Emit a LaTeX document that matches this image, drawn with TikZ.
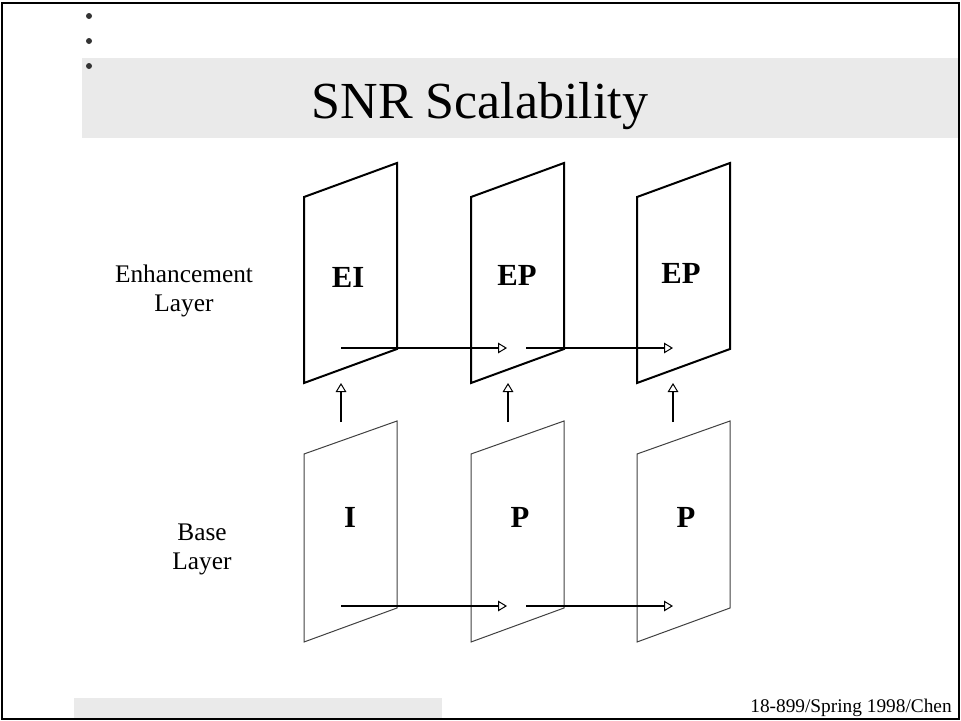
\documentclass[tikz,border=0pt]{standalone}
\usepackage{fontspec}
\setmainfont{Liberation Serif}
\usetikzlibrary{arrows.meta}
\definecolor{bandgray}{HTML}{EAEAEA}
\definecolor{dotgray}{HTML}{333333}
\definecolor{basegray}{HTML}{404040}
\begin{document}
\begin{tikzpicture}[x=0.75pt,y=-0.75pt]
\tikzstyle{every node}=[inner sep=0pt,anchor=base]
\tikzstyle{enhframe}=[line width=1.5pt,line join=miter]
\tikzstyle{baseframe}=[line width=0.75pt,basegray]
\tikzstyle{flow}=[line width=1.5pt,-{Triangle[open,length=6.75pt,width=8pt,line width=0.75pt]}]
\tikzstyle{frametext}=[font=\bfseries\fontsize{23}{27}\selectfont]
\tikzstyle{sidetext}=[font=\fontsize{19}{23}\selectfont]

% page size and slide frame
\useasboundingbox (0,0) rectangle (961,721);
\fill[bandgray] (82,58) rectangle (959,138);
\fill[bandgray] (74,698) rectangle (442,719);
\draw[line width=1.5pt] (2,3) rectangle (959,719);

% bullets
\foreach \y in {16,41,66}
	\fill[dotgray] (89,\y) circle (2.25pt);

% title and footer
\node[font=\fontsize{39}{46}\selectfont] (title) at (480,118) {SNR Scalability};
\node[anchor=base east,font=\fontsize{14.5}{17}\selectfont] (footer) at (952,712) {18-899/Spring 1998/Chen};

% layer names
\node[sidetext] (enh) at (184,282) {Enhancement};
\node[sidetext] (enhlayer) at (184,311) {Layer};
\node[sidetext] (base) at (202,540) {Base};
\node[sidetext] (baselayer) at (202,569) {Layer};

% frames
\foreach \L in {304,471,637} {
	\draw[enhframe] (\L,197) -- (\L+93,163) -- (\L+93,349) -- (\L,383) -- cycle;
	\draw[baseframe] (\L,454) -- (\L+93,421) -- (\L+93,608) -- (\L,642) -- cycle;
}

% frame types
\node[frametext] (ei) at (348,287) {EI};
\node[frametext] (ep1) at (517,285) {EP};
\node[frametext] (ep2) at (681,283) {EP};
\node[frametext] (i) at (350,527) {I};
\node[frametext] (p1) at (520,527) {P};
\node[frametext] (p2) at (686,527) {P};

% arrow ends
\coordinate (e1s) at (341,348); \coordinate (e1t) at (507,348);
\coordinate (e2s) at (526,348); \coordinate (e2t) at (673,348);
\coordinate (b1s) at (341,606); \coordinate (b1t) at (507,606);
\coordinate (b2s) at (526,606); \coordinate (b2t) at (673,606);
\foreach \x/\n in {341/1,508/2,673/3} {
	\coordinate (u\n s) at (\x,422);
	\coordinate (u\n t) at (\x,383);
}

% prediction arrows
\draw[flow] (e1s) -- (e1t);
\draw[flow] (e2s) -- (e2t);
\draw[flow] (b1s) -- (b1t);
\draw[flow] (b2s) -- (b2t);
\foreach \n in {1,2,3}
	\draw[flow] (u\n s) -- (u\n t);

\end{tikzpicture}
\end{document}
